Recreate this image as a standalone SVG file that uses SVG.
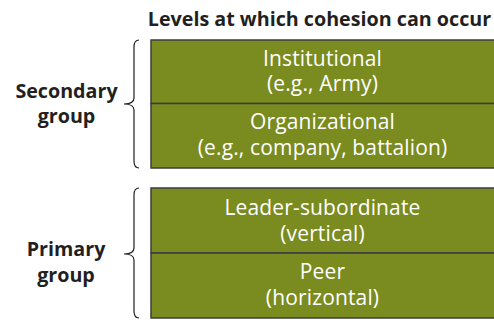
<svg xmlns="http://www.w3.org/2000/svg" width="494" height="320" viewBox="0 0 494 320">
<style>
.box{fill:#7a8b1f;stroke:#3d3d3d;stroke-width:1.5}
.bt{font-family:"Open Sans","Noto Sans",sans-serif;font-size:21px;letter-spacing:0.15px;fill:#ffffff;text-anchor:middle}
.lb{font-family:"Open Sans","Noto Sans",sans-serif;font-size:19.7px;font-weight:bold;fill:#231f20;text-anchor:middle}
.brace{fill:none;stroke:#231f20;stroke-width:1.2}
</style>
<rect width="494" height="320" fill="#ffffff"/>
<text class="lb" x="319.5" y="26" font-size="19.8">Levels at which cohesion can occur</text>
<g id="connectors">
<path class="brace" d="M139,40 Q134,40 134,47 L134,98 Q134,104 124,104 Q134,104 134,110 L134,161 Q134,168 139,168"/>
<path class="brace" d="M139,188 Q134,188 134,195 L134,248 Q134,254 124,254 Q134,254 134,260 L134,311 Q134,318 139,318"/>
</g>
<g id="secondary-label">
<text class="lb" x="66.5" y="97.5">Secondary</text>
<text class="lb" x="66.5" y="123">group</text>
</g>
<g id="primary-label">
<text class="lb" x="66" y="256">Primary</text>
<text class="lb" x="66" y="281.5">group</text>
</g>
<g id="institutional">
<rect class="box" x="151" y="40" width="345" height="63.5"/>
<text class="bt" x="322.5" y="65.5">Institutional</text>
<text class="bt" x="322.5" y="91">(e.g., Army)</text>
</g>
<g id="organizational">
<rect class="box" x="151" y="103.5" width="345" height="64.5"/>
<text class="bt" x="322.5" y="129">Organizational</text>
<text class="bt" x="322.5" y="154.5">(e.g., company, battalion)</text>
</g>
<g id="leader-subordinate">
<rect class="box" x="151" y="188" width="345" height="65"/>
<text class="bt" x="322.5" y="215">Leader-subordinate</text>
<text class="bt" x="322.5" y="240.5">(vertical)</text>
</g>
<g id="peer">
<rect class="box" x="151" y="253" width="345" height="65"/>
<text class="bt" x="322.5" y="279">Peer</text>
<text class="bt" x="322.5" y="305">(horizontal)</text>
</g>
</svg>
